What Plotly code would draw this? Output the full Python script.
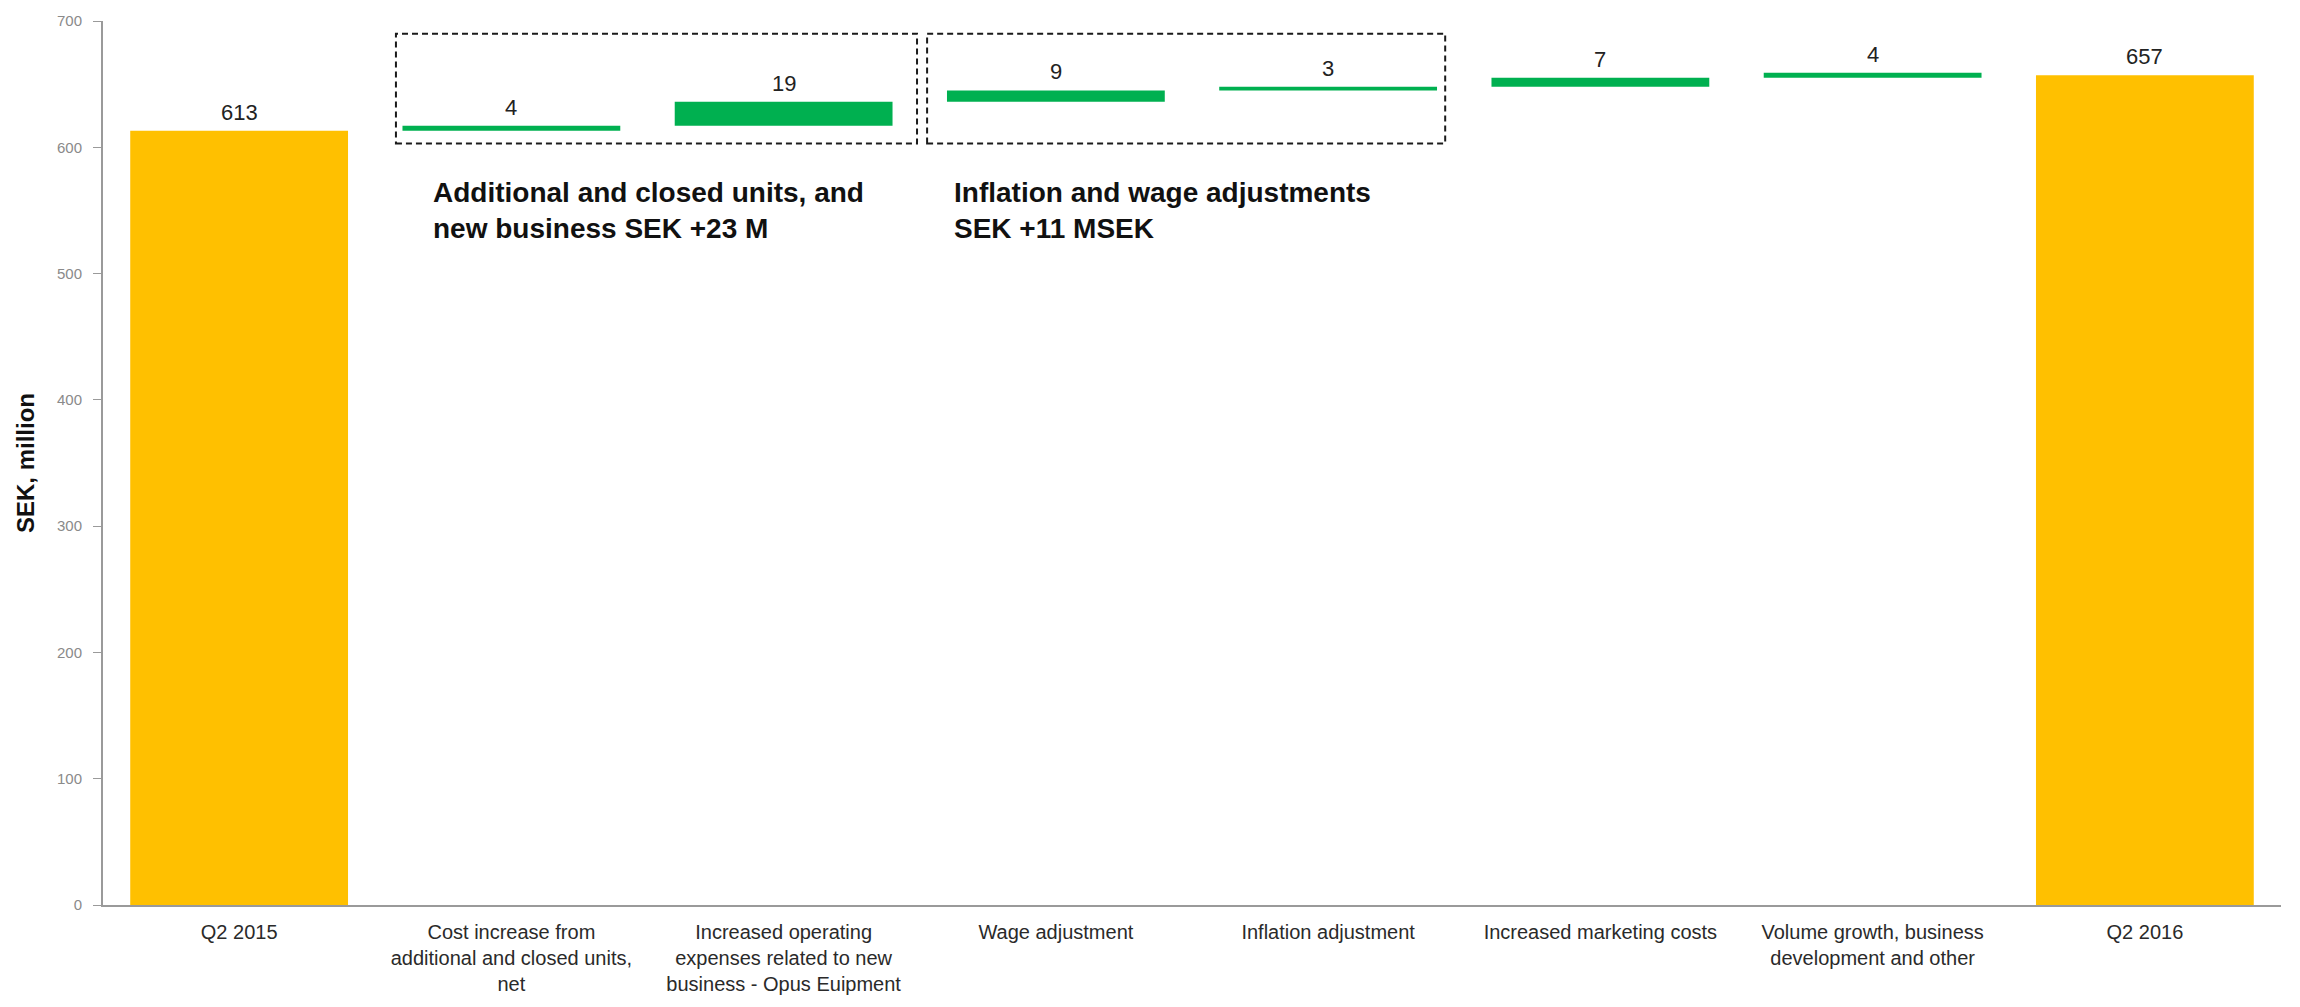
import plotly.graph_objects as go

# Bridge from Q2 2015 to Q2 2016 costs, SEK million
categories = [
    "Q2 2015",
    "Cost increase from<br>additional and closed units,<br>net",
    "Increased operating<br>expenses related to new<br>business - Opus Euipment",
    "Wage adjustment",
    "Inflation adjustment",
    "Increased marketing costs",
    "Volume growth, business<br>development and other",
    "Q2 2016",
]
start_value = 613
changes = [4, 19, 9, 3, 7, 4]
end_value = 657

ORANGE = "#FFC000"
GREEN = "#00B050"
FONT = "Liberation Sans, Arial, sans-serif"

# Floating bars: each change starts where the previous one ended
bases = []
running = start_value
for c in changes:
    bases.append(running)
    running += c

xs = list(range(len(categories)))

fig = go.Figure()
fig.add_trace(go.Bar(
    x=[xs[0], xs[-1]],
    y=[start_value, end_value],
    marker=dict(color=ORANGE, line=dict(width=0)),
    width=0.8,
    showlegend=False,
    hoverinfo="y",
))
fig.add_trace(go.Bar(
    x=xs[1:-1],
    y=changes,
    base=bases,
    marker=dict(color=GREEN, line=dict(width=0)),
    width=0.8,
    showlegend=False,
    hoverinfo="y",
))

# Value labels above each bar
label_font = dict(size=22, color="#222222", family=FONT)
tops = [start_value] + [b + c for b, c in zip(bases, changes)] + [end_value]
values = [start_value] + changes + [end_value]
for x, top, v in zip(xs, tops, values):
    fig.add_annotation(x=x, y=top, xref="x", yref="y", text=str(v),
                       showarrow=False, yanchor="bottom", yshift=4, font=label_font)

# Dashed group boxes
box_style = dict(type="rect", xref="x", yref="y",
                 line=dict(color="#1a1a1a", width=2, dash="6px,4px"),
                 fillcolor="rgba(0,0,0,0)", layer="above")
fig.add_shape(x0=0.576, x1=2.49, y0=603, y1=690, **box_style)
fig.add_shape(x0=2.527, x1=4.43, y0=603, y1=690, **box_style)

# Group notes
note_font = dict(size=28, color="#111111", family=FONT)
fig.add_annotation(x=0.705, y=578, xref="x", yref="y", xanchor="left", yanchor="top",
                   align="left", showarrow=False, font=note_font,
                   text="<b>Additional and closed units, and<br>new business SEK +23 M</b>")
fig.add_annotation(x=2.62, y=578, xref="x", yref="y", xanchor="left", yanchor="top",
                   align="left", showarrow=False, font=note_font,
                   text="<b>Inflation and wage adjustments<br>SEK +11 MSEK</b>")

fig.update_layout(
    width=2300, height=1007,
    margin=dict(l=103, r=19, t=19, b=102),
    paper_bgcolor="white", plot_bgcolor="white",
    barmode="overlay",
    font=dict(family=FONT, color="#333333"),
    xaxis=dict(
        range=[-0.5, 7.5],
        tickvals=xs, ticktext=categories,
        tickfont=dict(size=20, color="#2a2a2a", family=FONT),
        showgrid=False, zeroline=False,
        showline=True, linecolor="#9a9a9a", linewidth=2,
        ticks="",
        ticklabelstandoff=8,
    ),
    yaxis=dict(
        range=[0, 700], dtick=100,
        tickfont=dict(size=15, color="#8a8a8a", family=FONT),
        showgrid=False, zeroline=False,
        showline=True, linecolor="#9a9a9a", linewidth=2,
        ticks="outside", ticklen=8, tickcolor="#9a9a9a",
        ticklabelstandoff=8,
        title=dict(text="<b>SEK, million</b>", font=dict(size=24, color="#111111", family=FONT),
                   standoff=16),
    ),
)

fig.write_html("out.html")
